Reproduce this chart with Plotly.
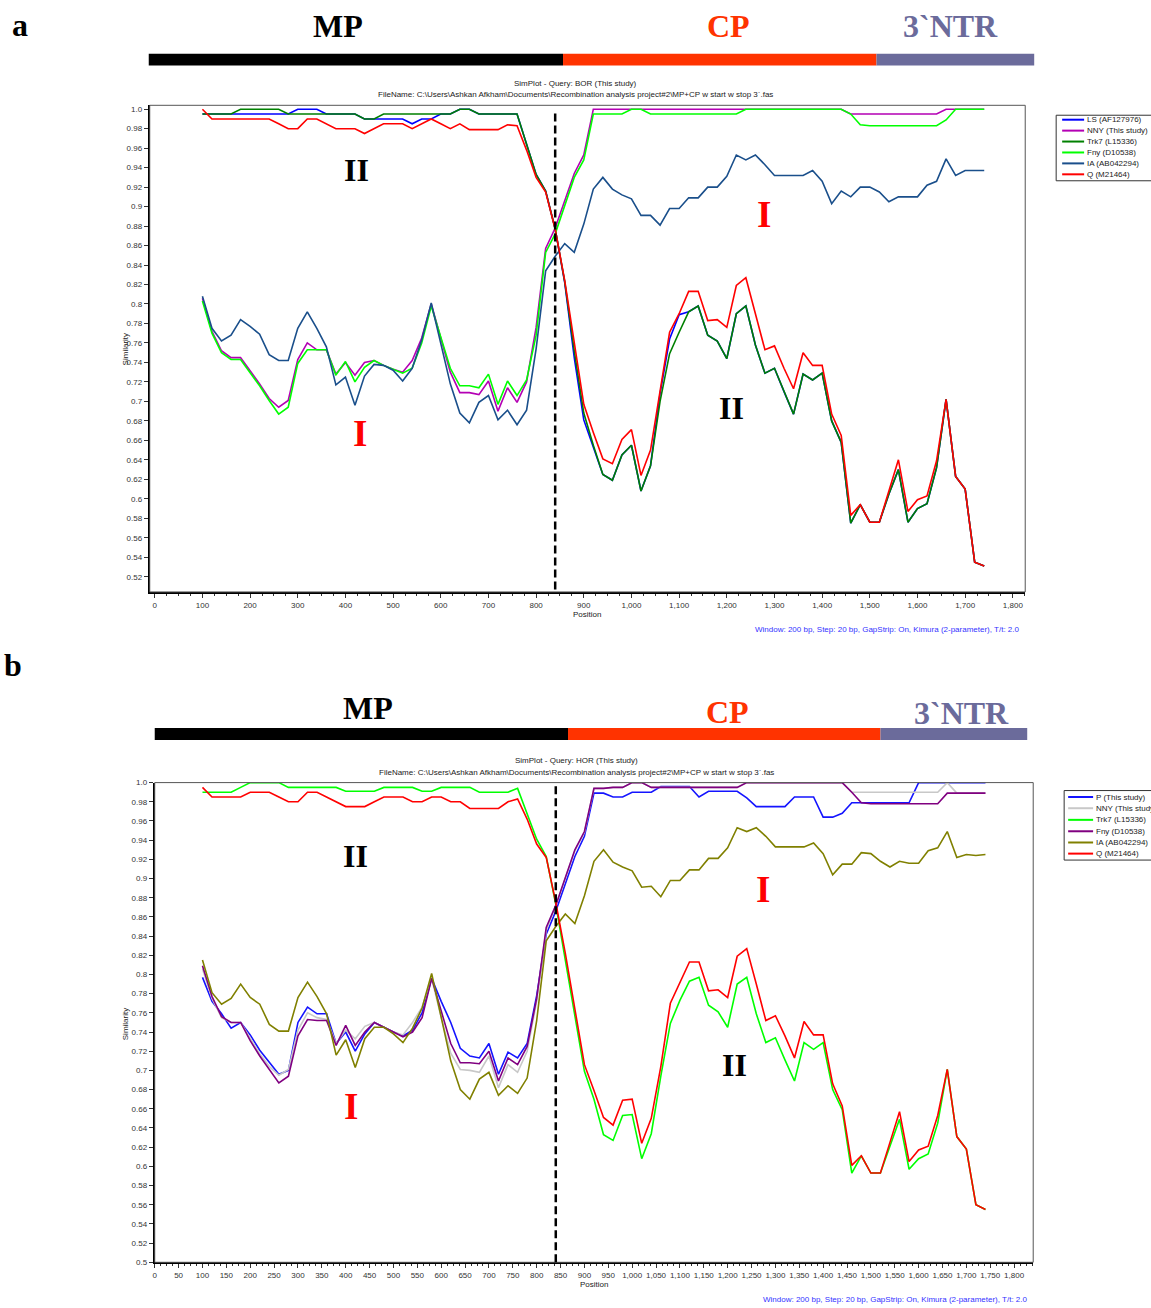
import plotly.graph_objects as go

# ---------------- DATA ----------------
POSITIONS = [100, 120, 140, 160, 180, 200, 220, 240, 260, 280,
             300, 320, 340, 360, 380, 400, 420, 440, 460, 480,
             500, 520, 540, 560, 580, 600, 620, 640, 660, 680,
             700, 720, 740, 760, 780, 800, 820, 840, 860, 880,
             900, 920, 940, 960, 980, 1000, 1020, 1040, 1060, 1080,
             1100, 1120, 1140, 1160, 1180, 1200, 1220, 1240, 1260, 1280,
             1300, 1320, 1340, 1360, 1380, 1400, 1420, 1440, 1460, 1480,
             1500, 1520, 1540, 1560, 1580, 1600, 1620, 1640, 1660, 1680,
             1700, 1720, 1740]

BREAKPOINT = 840

# ---- panel a : query BOR ----
NAMES_A = ["LS (AF127976)", "NNY (This study)", "Trk7 (L15336)",
           "Fny (D10538)", "IA (AB042294)", "Q (M21464)"]
COLORS_A = ["#0000FF", "#B400B4", "#008000", "#00FF00", "#1A4F8B", "#FF0000"]

LS_A = [0.995, 0.995, 0.995, 0.995, 0.995, 0.995, 0.995, 0.995, 0.995, 0.995,
        1.0, 1.0, 1.0, 0.995, 0.995, 0.995, 0.995, 0.99, 0.99, 0.99,
        0.99, 0.99, 0.985, 0.99, 0.99, 0.995, 0.995, 1.0, 1.0, 0.995,
        0.995, 0.995, 0.995, 0.995, 0.964, 0.933, 0.916, 0.877, 0.822, 0.745,
        0.681, 0.652, 0.625, 0.619, 0.645, 0.655, 0.608, 0.634, 0.708, 0.764,
        0.789, 0.792, 0.798, 0.768, 0.762, 0.744, 0.790, 0.798, 0.758, 0.729,
        0.734, 0.710, 0.687, 0.728, 0.722, 0.729, 0.680, 0.658, 0.575, 0.594,
        0.576, 0.576, 0.605, 0.630, 0.576, 0.590, 0.595, 0.632, 0.702, 0.623,
        0.610, 0.535, 0.531]
NNY_A = [0.806, 0.772, 0.752, 0.745, 0.745, 0.732, 0.718, 0.703, 0.694, 0.701,
         0.743, 0.760, 0.753, 0.753, 0.728, 0.740, 0.727, 0.740, 0.742, 0.737,
         0.733, 0.730, 0.742, 0.765, 0.800, 0.765, 0.730, 0.709, 0.709, 0.707,
         0.721, 0.690, 0.714, 0.699, 0.720, 0.776, 0.857, 0.878, 0.907, 0.934,
         0.953, 1.0, 1.0, 1.0, 1.0, 1.0, 1.0, 1.0, 1.0, 1.0,
         1.0, 1.0, 1.0, 1.0, 1.0, 1.0, 1.0, 1.0, 1.0, 1.0,
         1.0, 1.0, 1.0, 1.0, 1.0, 1.0, 1.0, 1.0, 0.995, 0.995,
         0.995, 0.995, 0.995, 0.995, 0.995, 0.995, 0.995, 0.995, 1.0, 1.0,
         1.0, 1.0, 1.0]
TRK7_A = [0.995, 0.995, 0.995, 0.995, 1.0, 1.0, 1.0, 1.0, 1.0, 0.995,
          0.995, 0.995, 0.995, 0.995, 0.995, 0.995, 0.995, 0.99, 0.99, 0.995,
          0.995, 0.995, 0.995, 0.995, 0.995, 0.995, 0.995, 1.0, 1.0, 0.995,
          0.995, 0.995, 0.995, 0.995, 0.964, 0.933, 0.916, 0.877, 0.823, 0.752,
          0.688, 0.655, 0.625, 0.619, 0.645, 0.655, 0.608, 0.634, 0.700, 0.749,
          0.771, 0.792, 0.798, 0.768, 0.762, 0.744, 0.790, 0.798, 0.758, 0.729,
          0.734, 0.710, 0.687, 0.728, 0.722, 0.729, 0.680, 0.658, 0.575, 0.594,
          0.576, 0.576, 0.605, 0.630, 0.576, 0.590, 0.595, 0.632, 0.702, 0.623,
          0.610, 0.535, 0.531]
FNY_A = [0.803, 0.770, 0.750, 0.743, 0.743, 0.730, 0.716, 0.701, 0.687, 0.694,
         0.739, 0.753, 0.753, 0.753, 0.727, 0.741, 0.720, 0.735, 0.742, 0.737,
         0.733, 0.729, 0.734, 0.760, 0.798, 0.765, 0.734, 0.716, 0.716, 0.714,
         0.728, 0.697, 0.721, 0.706, 0.722, 0.768, 0.853, 0.872, 0.900, 0.930,
         0.948, 0.995, 0.995, 0.995, 0.995, 1.0, 1.0, 0.995, 0.995, 0.995,
         0.995, 0.995, 0.995, 0.995, 0.995, 0.995, 0.995, 1.0, 1.0, 1.0,
         1.0, 1.0, 1.0, 1.0, 1.0, 1.0, 1.0, 1.0, 0.995, 0.984,
         0.983, 0.983, 0.983, 0.983, 0.983, 0.983, 0.983, 0.983, 0.989, 1.0,
         1.0, 1.0, 1.0]
IA_A = [0.808, 0.775, 0.762, 0.768, 0.784, 0.777, 0.769, 0.748, 0.742, 0.742,
        0.775, 0.792, 0.775, 0.756, 0.717, 0.725, 0.696, 0.726, 0.738, 0.737,
        0.732, 0.721, 0.734, 0.763, 0.801, 0.760, 0.718, 0.688, 0.678, 0.699,
        0.706, 0.681, 0.691, 0.676, 0.691, 0.754, 0.834, 0.849, 0.862, 0.853,
        0.882, 0.918, 0.930, 0.918, 0.912, 0.908, 0.891, 0.891, 0.881, 0.898,
        0.898, 0.909, 0.909, 0.920, 0.920, 0.931, 0.953, 0.948, 0.953, 0.943,
        0.932, 0.932, 0.932, 0.932, 0.937, 0.926, 0.903, 0.916, 0.910, 0.920,
        0.920, 0.915, 0.905, 0.910, 0.910, 0.910, 0.922, 0.926, 0.949, 0.932,
        0.937, 0.937, 0.937]
Q_A = [1.0, 0.99, 0.99, 0.99, 0.99, 0.99, 0.99, 0.99, 0.985, 0.98,
       0.98, 0.99, 0.99, 0.985, 0.98, 0.98, 0.98, 0.975, 0.98, 0.985,
       0.985, 0.985, 0.98, 0.985, 0.99, 0.985, 0.98, 0.985, 0.979, 0.979,
       0.979, 0.979, 0.984, 0.983, 0.958, 0.930, 0.915, 0.877, 0.824, 0.760,
       0.697, 0.668, 0.641, 0.636, 0.661, 0.671, 0.624, 0.650, 0.710, 0.771,
       0.790, 0.813, 0.813, 0.783, 0.784, 0.776, 0.819, 0.827, 0.790, 0.753,
       0.757, 0.734, 0.713, 0.750, 0.737, 0.737, 0.687, 0.665, 0.583, 0.594,
       0.576, 0.576, 0.608, 0.640, 0.587, 0.599, 0.603, 0.639, 0.702, 0.623,
       0.610, 0.535, 0.531]

# ---- panel b : query HOR ----
NAMES_B = ["P (This study)", "NNY (This study)", "Trk7 (L15336)",
           "Fny (D10538)", "IA (AB042294)", "Q (M21464)"]
COLORS_B = ["#1414FF", "#C8C8C8", "#00FF00", "#800080", "#808000", "#FF0000"]

P_B = [0.797, 0.772, 0.759, 0.744, 0.750, 0.737, 0.721, 0.709, 0.696, 0.700,
       0.750, 0.766, 0.759, 0.759, 0.728, 0.740, 0.720, 0.738, 0.750, 0.745,
       0.740, 0.736, 0.742, 0.760, 0.796, 0.772, 0.750, 0.723, 0.715, 0.713,
       0.728, 0.696, 0.719, 0.713, 0.728, 0.778, 0.842, 0.866, 0.894, 0.923,
       0.944, 0.989, 0.989, 0.985, 0.985, 0.990, 0.990, 0.990, 0.996, 0.996,
       0.996, 0.996, 0.985, 0.991, 0.991, 0.991, 0.991, 0.984, 0.975, 0.975,
       0.975, 0.975, 0.985, 0.985, 0.985, 0.964, 0.964, 0.968, 0.979, 0.979,
       0.979, 0.979, 0.979, 0.979, 0.979, 1.0, 1.0, 1.0, 1.0, 1.0,
       1.0, 1.0, 1.0]
NNY_B = [0.806, 0.775, 0.755, 0.750, 0.750, 0.733, 0.717, 0.704, 0.695, 0.701,
         0.742, 0.760, 0.755, 0.753, 0.728, 0.742, 0.733, 0.746, 0.750, 0.745,
         0.740, 0.737, 0.750, 0.766, 0.796, 0.755, 0.718, 0.701, 0.700, 0.698,
         0.715, 0.682, 0.706, 0.698, 0.720, 0.772, 0.846, 0.872, 0.901, 0.929,
         0.948, 0.994, 0.994, 0.995, 0.995, 1.0, 1.0, 0.995, 0.995, 0.995,
         0.995, 0.995, 0.995, 0.995, 0.995, 0.995, 0.995, 1.0, 1.0, 1.0,
         1.0, 1.0, 1.0, 1.0, 1.0, 1.0, 1.0, 1.0, 0.99, 0.99,
         0.99, 0.99, 0.99, 0.99, 0.99, 0.99, 0.99, 0.99, 1.0, 0.989,
         0.989, 0.989, 0.989]
TRK7_B = [0.99, 0.99, 0.99, 0.99, 0.995, 1.0, 1.0, 1.0, 1.0, 0.995,
          0.995, 0.995, 0.995, 0.995, 0.995, 0.991, 0.991, 0.991, 0.991, 0.995,
          0.995, 0.995, 0.995, 0.991, 0.991, 0.995, 0.995, 0.995, 0.995, 0.99,
          0.99, 0.99, 0.99, 0.994, 0.968, 0.941, 0.923, 0.873, 0.815, 0.755,
          0.699, 0.670, 0.633, 0.627, 0.653, 0.654, 0.608, 0.634, 0.694, 0.749,
          0.773, 0.793, 0.797, 0.768, 0.761, 0.745, 0.790, 0.797, 0.759, 0.729,
          0.734, 0.711, 0.689, 0.729, 0.722, 0.729, 0.680, 0.659, 0.593, 0.611,
          0.593, 0.593, 0.620, 0.649, 0.597, 0.608, 0.613, 0.645, 0.701, 0.631,
          0.618, 0.560, 0.555]
FNY_B = [0.809, 0.777, 0.756, 0.750, 0.750, 0.731, 0.715, 0.701, 0.687, 0.694,
         0.736, 0.753, 0.752, 0.752, 0.726, 0.747, 0.726, 0.740, 0.750, 0.745,
         0.740, 0.735, 0.740, 0.755, 0.796, 0.762, 0.728, 0.708, 0.708, 0.707,
         0.720, 0.689, 0.713, 0.706, 0.725, 0.775, 0.849, 0.872, 0.902, 0.930,
         0.949, 0.994, 0.994, 0.995, 0.995, 1.0, 1.0, 0.995, 0.995, 0.995,
         0.995, 0.995, 0.995, 0.995, 0.995, 0.995, 0.995, 1.0, 1.0, 1.0,
         1.0, 1.0, 1.0, 1.0, 1.0, 1.0, 1.0, 1.0, 0.99, 0.979,
         0.978, 0.978, 0.978, 0.978, 0.978, 0.978, 0.978, 0.978, 0.989, 0.989,
         0.989, 0.989, 0.989]
IA_B = [0.815, 0.781, 0.769, 0.775, 0.790, 0.776, 0.769, 0.748, 0.741, 0.741,
        0.776, 0.792, 0.777, 0.759, 0.716, 0.732, 0.703, 0.733, 0.745, 0.745,
        0.738, 0.729, 0.744, 0.765, 0.801, 0.755, 0.710, 0.680, 0.670, 0.691,
        0.698, 0.674, 0.684, 0.676, 0.692, 0.752, 0.835, 0.850, 0.863, 0.853,
        0.882, 0.918, 0.930, 0.917, 0.912, 0.908, 0.891, 0.892, 0.881, 0.898,
        0.898, 0.909, 0.909, 0.921, 0.921, 0.932, 0.953, 0.949, 0.953, 0.944,
        0.933, 0.933, 0.933, 0.933, 0.937, 0.926, 0.904, 0.915, 0.915, 0.927,
        0.926, 0.918, 0.912, 0.918, 0.916, 0.916, 0.929, 0.932, 0.949, 0.922,
        0.925, 0.924, 0.925]
Q_B = [0.995, 0.985, 0.985, 0.985, 0.985, 0.99, 0.99, 0.99, 0.985, 0.98,
       0.98, 0.99, 0.99, 0.985, 0.98, 0.975, 0.975, 0.975, 0.98, 0.985,
       0.985, 0.985, 0.98, 0.98, 0.985, 0.985, 0.98, 0.98, 0.973, 0.973,
       0.973, 0.973, 0.98, 0.983, 0.962, 0.936, 0.922, 0.875, 0.822, 0.762,
       0.706, 0.679, 0.651, 0.643, 0.669, 0.670, 0.624, 0.650, 0.704, 0.770,
       0.792, 0.813, 0.813, 0.783, 0.784, 0.776, 0.819, 0.827, 0.790, 0.752,
       0.757, 0.736, 0.713, 0.751, 0.737, 0.737, 0.686, 0.663, 0.601, 0.611,
       0.593, 0.593, 0.625, 0.657, 0.605, 0.617, 0.621, 0.653, 0.701, 0.631,
       0.618, 0.560, 0.555]

SERIES_A = [LS_A, NNY_A, TRK7_A, FNY_A, IA_A, Q_A]
SERIES_B = [P_B, NNY_B, TRK7_B, FNY_B, IA_B, Q_B]

YTICKS_A = [0.52, 0.54, 0.56, 0.58, 0.6, 0.62, 0.64, 0.66, 0.68, 0.7, 0.72, 0.74,
            0.76, 0.78, 0.8, 0.82, 0.84, 0.86, 0.88, 0.9, 0.92, 0.94, 0.96, 0.98, 1.0]
YTICKTEXT_A = ["0.52", "0.54", "0.56", "0.58", "0.6", "0.62", "0.64", "0.66", "0.68",
               "0.7", "0.72", "0.74", "0.76", "0.78", "0.8", "0.82", "0.84", "0.86",
               "0.88", "0.9", "0.92", "0.94", "0.96", "0.98", "1.0"]
YTICKS_B = [0.5] + YTICKS_A
YTICKTEXT_B = ["0.5"] + YTICKTEXT_A

TITLE_A = "SimPlot - Query: BOR (This study)"
TITLE_B = "SimPlot - Query: HOR (This study)"
FILENAME = ("FileName: C:\\Users\\Ashkan Afkham\\Documents\\Recombination analysis "
            "project#2\\MP+CP w start w stop 3`.fas")
FOOTER = "Window: 200 bp, Step: 20 bp, GapStrip: On, Kimura (2-parameter), T/t: 2.0"

# ---------------- LAYOUT HELPERS ----------------
W, H = 1151, 1308
def px(x):
    return x / W
def py(y):
    return 1 - y / H

SANS = "Liberation Sans, Arial, sans-serif"
SERIF = "Liberation Serif, Times New Roman, serif"

fig = go.Figure()

for vals, name, col in zip(SERIES_A, NAMES_A, COLORS_A):
    fig.add_trace(go.Scatter(x=POSITIONS, y=vals, name=name, mode="lines",
                             line=dict(color=col, width=1.6),
                             xaxis="x", yaxis="y", showlegend=False))
for vals, name, col in zip(SERIES_B, NAMES_B, COLORS_B):
    fig.add_trace(go.Scatter(x=POSITIONS, y=vals, name=name, mode="lines",
                             line=dict(color=col, width=1.6),
                             xaxis="x2", yaxis="y2", showlegend=False))

tickfont = dict(family=SANS, size=8, color="#333333")
common_x = dict(showgrid=False, zeroline=False, showline=True, linecolor="black",
                linewidth=2, ticks="outside", ticklen=4, tickcolor="#333333",
                tickfont=tickfont, tickformat=",", tickmode="linear", tick0=0,
                fixedrange=True)
common_y = dict(showgrid=False, zeroline=False, showline=True, linecolor="black",
                linewidth=2, ticks="outside", ticklen=4, tickcolor="#333333",
                tickfont=tickfont, tickmode="array", fixedrange=True)

fig.update_layout(
    width=W, height=H, autosize=False,
    margin=dict(l=0, r=0, t=0, b=0),
    paper_bgcolor="white", plot_bgcolor="white",
    showlegend=False,
    xaxis=dict(domain=[px(148), px(1025)], range=[-10.5, 1826], dtick=100,
               anchor="y",
               minor=dict(dtick=25, ticklen=2, ticks="outside", tickcolor="#333333"),
               **common_x),
    yaxis=dict(domain=[py(592), py(102)], range=[0.5044, 1.004], anchor="x",
               tickvals=YTICKS_A, ticktext=YTICKTEXT_A, **common_y),
    xaxis2=dict(domain=[px(153), px(1033)], range=[0, 1840], dtick=50,
                anchor="y2",
                minor=dict(dtick=12.5, ticklen=2, ticks="outside", tickcolor="#333333"),
                **common_x),
    yaxis2=dict(domain=[py(1267), py(784)], range=[0.5, 1.0], anchor="x2",
                tickvals=YTICKS_B, ticktext=YTICKTEXT_B, **common_y),
)

shapes = []
# plot frames
for xr, yr in (("x domain", "y domain"), ("x2 domain", "y2 domain")):
    shapes.append(dict(type="rect", xref=xr, yref=yr, x0=0, x1=1, y0=0, y1=1,
                       line=dict(color="#555555", width=1), layer="above"))
# breakpoint dashed lines
shapes.append(dict(type="line", xref="x", yref="y domain", x0=BREAKPOINT, x1=BREAKPOINT,
                   y0=0.005, y1=0.988, line=dict(color="black", width=2.5, dash="8px,4px")))
shapes.append(dict(type="line", xref="x2", yref="y2 domain", x0=BREAKPOINT, x1=BREAKPOINT,
                   y0=0.0, y1=0.995, line=dict(color="black", width=2.5, dash="8px,4px")))

# genome-region bars
GENE_COLORS = ["#000000", "#FF3300", "#6B6B9B"]
BARS_A = [(147, 562), (562, 876), (876, 1034)]
BARS_B = [(153, 567), (567, 880), (880, 1027)]
for (x0, x1), c in zip(BARS_A, GENE_COLORS):
    shapes.append(dict(type="rect", xref="paper", yref="paper", x0=px(x0), x1=px(x1),
                       y0=py(62), y1=py(50), fillcolor=c, line=dict(width=0)))
for (x0, x1), c in zip(BARS_B, GENE_COLORS):
    shapes.append(dict(type="rect", xref="paper", yref="paper", x0=px(x0), x1=px(x1),
                       y0=py(741), y1=py(729), fillcolor=c, line=dict(width=0)))

ann = []
def text(x, y, t, size=8, color="#222222", family=SANS, xanchor="center", bold=False,
         angle=0):
    ann.append(dict(x=px(x), y=py(y), xref="paper", yref="paper", text=(f"<b>{t}</b>" if bold else t),
                    showarrow=False, xanchor=xanchor, yanchor="middle", textangle=angle,
                    font=dict(family=family, size=size, color=color)))

# manual legends
def legend(x_box, y_top, y_bot, x_l0, x_l1, x_txt, ys, names, colors):
    shapes.append(dict(type="rect", xref="paper", yref="paper", x0=px(x_box), x1=px(1165),
                       y0=py(y_bot), y1=py(y_top), line=dict(color="#333333", width=1),
                       fillcolor="white", layer="below"))
    for yy, n, c in zip(ys, names, colors):
        shapes.append(dict(type="line", xref="paper", yref="paper", x0=px(x_l0), x1=px(x_l1),
                           y0=py(yy), y1=py(yy), line=dict(color=c, width=2)))
        text(x_txt, yy, n, size=8, color="#222222", xanchor="left")

legend(1056, 112, 178, 1062, 1084, 1085,
       [116.5, 127.5, 138.5, 149.5, 160.5, 171.5], NAMES_A, COLORS_A)
legend(1064, 792, 862, 1068, 1093, 1094,
       [798.5, 809.8, 821.5, 833, 844.3, 855.5], NAMES_B, COLORS_B)

# panel a headers
text(18, 21, "a", size=32, color="black", family=SERIF, bold=True)
text(337, 22, "MP", size=32, color="black", family=SERIF, bold=True)
text(728, 22, "CP", size=32, color="#FF3300", family=SERIF, bold=True)
text(950, 22, "3`NTR", size=32, color="#6B6B9B", family=SERIF, bold=True)
text(574, 80, TITLE_A)
text(574, 91, FILENAME)
text(586, 615, "Position")
text(124, 348, "Similarity", angle=-90)
text(1022, 630, FOOTER, color="#3333FF", xanchor="right")
# panel a region labels
text(355, 167, "II", size=32, color="black", family=SERIF, bold=True)
text(763, 212, "I", size=37, color="#FF0000", family=SERIF, bold=True)
text(359, 432, "I", size=37, color="#FF0000", family=SERIF, bold=True)
text(731, 407, "II", size=32, color="black", family=SERIF, bold=True)

# panel b headers
text(11, 666, "b", size=32, color="black", family=SERIF, bold=True)
text(367, 709, "MP", size=32, color="black", family=SERIF, bold=True)
text(727, 713, "CP", size=32, color="#FF3300", family=SERIF, bold=True)
text(961, 714, "3`NTR", size=32, color="#6B6B9B", family=SERIF, bold=True)
text(576, 762, TITLE_B)
text(576, 774, FILENAME)
text(593, 1289, "Position")
text(124.5, 1027, "Similarity", angle=-90)
text(1030, 1304, FOOTER, color="#3333FF", xanchor="right")
# panel b region labels
text(354, 858, "II", size=32, color="black", family=SERIF, bold=True)
text(762, 892, "I", size=37, color="#FF0000", family=SERIF, bold=True)
text(350, 1110, "I", size=37, color="#FF0000", family=SERIF, bold=True)
text(734, 1068, "II", size=32, color="black", family=SERIF, bold=True)

fig.update_layout(shapes=shapes, annotations=ann)
fig.write_html("out.html", config={"displayModeBar": False},
               post_script="document.body.style.margin='0px';document.body.style.padding='0px';")
